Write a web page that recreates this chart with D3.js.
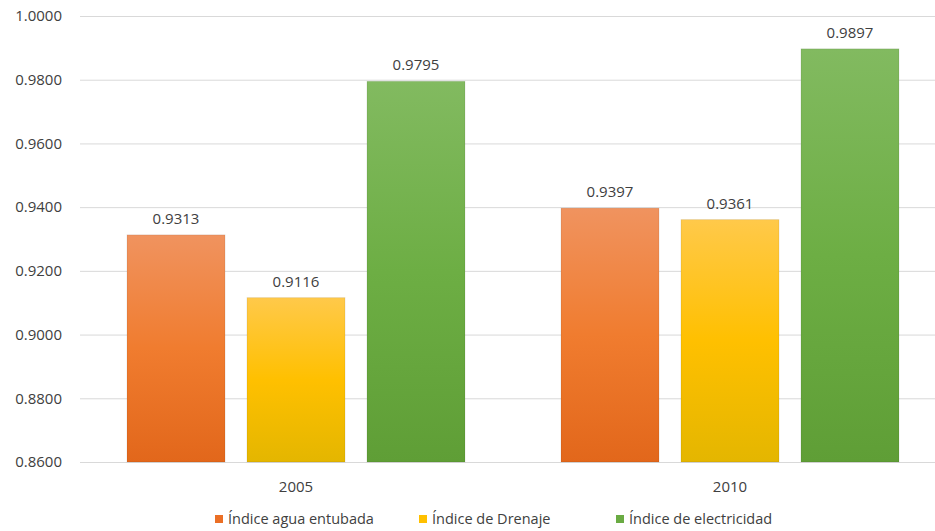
<!DOCTYPE html>
<html><head><meta charset="utf-8">
<script src="https://cdn.jsdelivr.net/npm/d3@7"></script>
<style>body{margin:0;background:#fff}svg{display:block}</style>
</head><body>
<svg id="c" width="935" height="531"></svg>
<script>
const years = ["2005", "2010"];
const seriesNames = ["Índice agua entubada", "Índice de Drenaje", "Índice de electricidad"];
const aguaValues = [0.9313, 0.9397];
const drenajeValues = [0.9116, 0.9361];
const electricidadValues = [0.9795, 0.9897];
const yTicks = [0.86, 0.88, 0.90, 0.92, 0.94, 0.96, 0.98, 1.00];
const colorStops = [
  ["#F0935F", "#F07C2F", "#E2671B"],
  ["#FFC94A", "#FFC000", "#E4B600"],
  ["#82BA60", "#6DAE44", "#5F9E36"]
];
const legendColors = ["#EB6F25", "#FFC000", "#6AAB43"];

const allValues = [aguaValues, drenajeValues, electricidadValues];
const svg = d3.select("#c");
const font = "'Open Sans', sans-serif";
const textColor = "#404040";

const y = d3.scaleLinear().domain([0.86, 1.0]).range([462, 16]);
const x0 = d3.scaleBand().domain(years).range([80, 948]);
const x1 = d3.scaleBand().domain(seriesNames).range([47, 385]).paddingInner(0.183).paddingOuter(0);

const defs = svg.append("defs");
colorStops.forEach((cs, i) => {
  const g = defs.append("linearGradient").attr("id", "g" + i)
    .attr("x1", 0).attr("y1", 0).attr("x2", 0).attr("y2", 1);
  g.append("stop").attr("offset", "0%").attr("stop-color", cs[0]);
  g.append("stop").attr("offset", "50%").attr("stop-color", cs[1]);
  g.append("stop").attr("offset", "100%").attr("stop-color", cs[2]);
});

// gridlines + y axis labels
const yAxis = d3.axisLeft(y).tickValues(yTicks).tickFormat(d3.format(".4f")).tickSize(-(935 - 80)).tickPadding(18);
const ga = svg.append("g").attr("transform", "translate(80,0)").call(yAxis);
ga.select(".domain").remove();
ga.selectAll(".tick line").attr("stroke", "#D9D9D9").attr("stroke-width", 1);
ga.selectAll(".tick text").attr("font-family", font).attr("font-size", 15).attr("fill", textColor);

// bars
years.forEach((yr, gi) => {
  const g = svg.append("g").attr("transform", `translate(${x0(yr)},0)`);
  seriesNames.forEach((s, si) => {
    const v = allValues[si][gi];
    g.append("rect")
      .attr("x", x1(s)).attr("y", y(v))
      .attr("width", x1.bandwidth()).attr("height", y(0.86) - y(v))
      .attr("fill", `url(#g${si})`)
      .attr("stroke", "rgba(0,0,0,0.08)").attr("stroke-width", 1);
    g.append("text")
      .attr("x", x1(s) + x1.bandwidth() / 2).attr("y", y(v) - 11)
      .attr("text-anchor", "middle").attr("font-family", font).attr("font-size", 15)
      .attr("fill", textColor).text(d3.format(".4f")(v));
  });
});

// x axis labels
svg.append("g").selectAll("text").data(years).join("text")
  .attr("x", d => x0(d) + (47 + 385) / 2).attr("y", 492)
  .attr("text-anchor", "middle").attr("font-family", font).attr("font-size", 15)
  .attr("fill", textColor).text(d => d);

// legend
const legendX = [215, 419, 616];
const lg = svg.append("g");
seriesNames.forEach((s, i) => {
  lg.append("rect").attr("x", legendX[i]).attr("y", 515).attr("width", 8).attr("height", 8)
    .attr("fill", legendColors[i]);
  lg.append("text").attr("x", legendX[i] + 13).attr("y", 524)
    .attr("font-family", font).attr("font-size", 14.5).attr("fill", textColor).text(s);
});
</script>
</body></html>
